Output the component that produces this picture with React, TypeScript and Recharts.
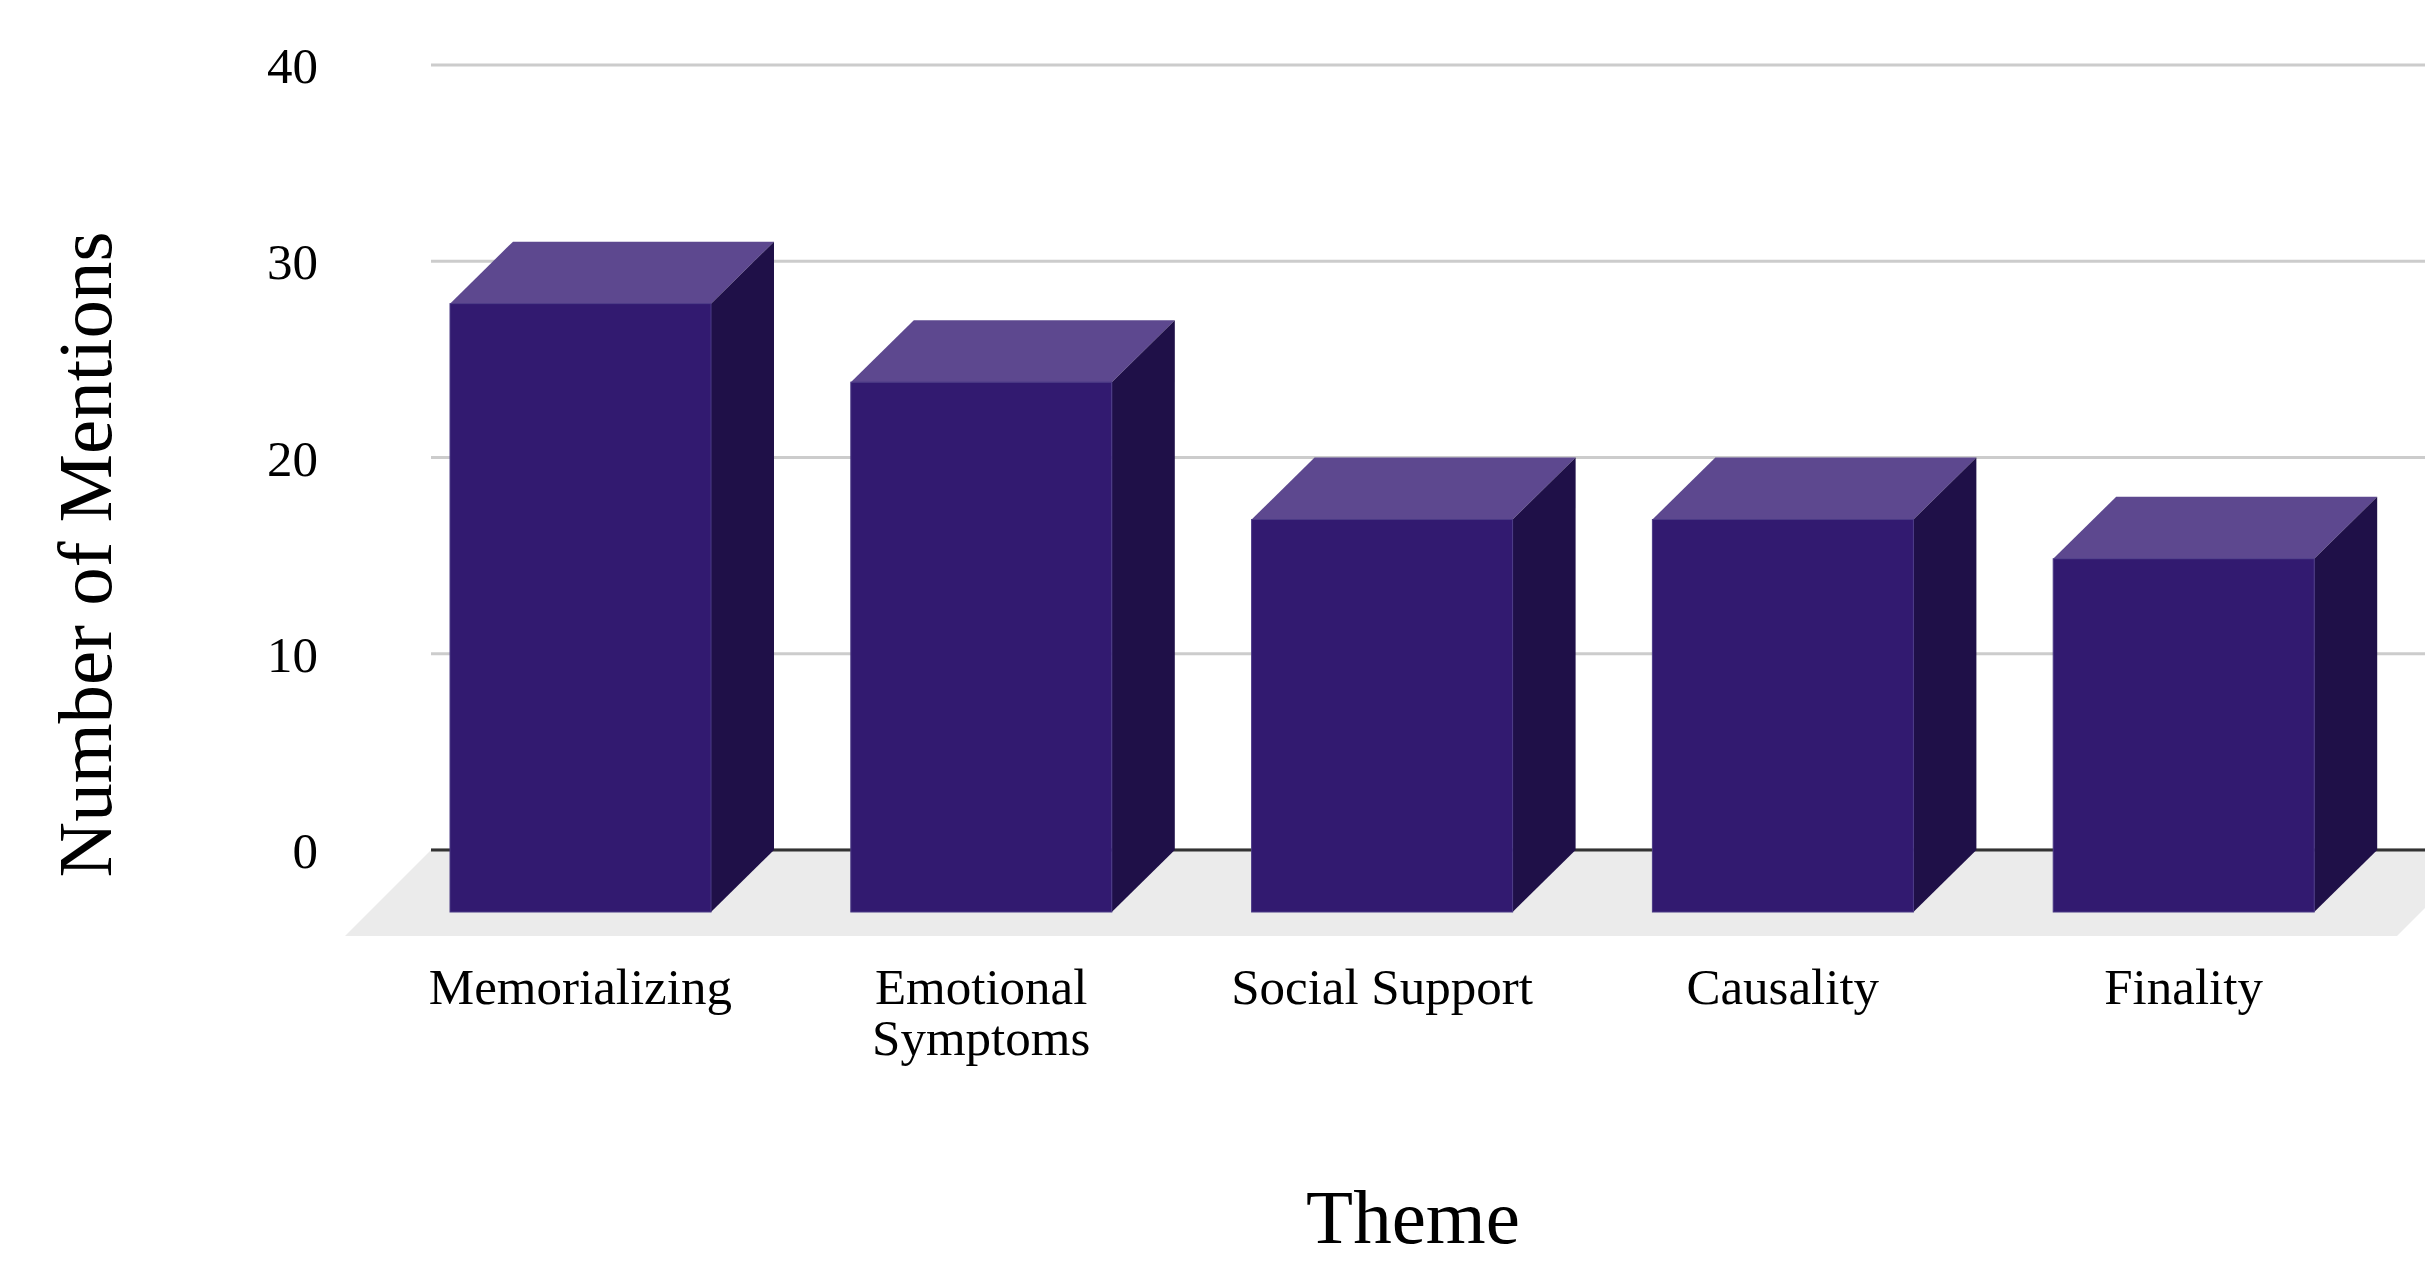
import React from "react";
import { BarChart, Bar, XAxis, YAxis, CartesianGrid, ReferenceArea, Label } from "recharts";

/* -------------------------------------------------------------------------- */
/*  Data                                                                      */
/* -------------------------------------------------------------------------- */

const categories = ["Memorializing", "Emotional Symptoms", "Social Support", "Causality", "Finality"];
const mentions = [31, 27, 20, 20, 18];
const yTicks = [0, 10, 20, 30, 40];

const data = categories.map((theme, i) => ({ theme, mentions: mentions[i] }));

/* -------------------------------------------------------------------------- */
/*  Look                                                                      */
/* -------------------------------------------------------------------------- */

const FONT = '"Liberation Serif", "Times New Roman", serif';
const TICK_SIZE = 51;
const TITLE_SIZE = 77;

// 3D offset: how far the bar's front face sits left/below its back face
const DEPTH_X = 63;
const DEPTH_Y = 62;
const FLOOR_DEPTH = 86;

// category padding inside the plot; the floor still spans the whole plot
const PAD_LEFT = 12;
const PAD_RIGHT = 36;

const FRONT = "#321a70";
const TOP = "#5d488f";
const SIDE = "#1f1048";

/* -------------------------------------------------------------------------- */
/*  Shapes                                                                    */
/* -------------------------------------------------------------------------- */

function Bar3D(props: any) {
  const { x, y, width: w, height: h } = props;
  if (h == null || w == null) return null;
  const fx = x - DEPTH_X;
  const fy = y + DEPTH_Y;
  return (
    <g>
      <polygon
        points={`${fx},${fy} ${x},${y} ${x + w},${y} ${fx + w},${fy}`}
        fill={TOP}
      />
      <polygon
        points={`${fx + w},${fy} ${x + w},${y} ${x + w},${y + h} ${fx + w},${fy + h}`}
        fill={SIDE}
      />
      <rect x={fx} y={fy} width={w} height={h} fill={FRONT} stroke="#4b3a86" strokeWidth={1} />
    </g>
  );
}

// floor plane under the bars, plus the dark baseline at its back edge
function Floor(props: any) {
  const x = props.x - PAD_LEFT;
  const width = props.width + PAD_LEFT + PAD_RIGHT;
  const base = props.y + props.height;
  return (
    <g>
      <polygon
        points={`${x},${base} ${x + width},${base} ${x + width - FLOOR_DEPTH},${base + FLOOR_DEPTH} ${x - FLOOR_DEPTH},${base + FLOOR_DEPTH}`}
        fill="#ebebeb"
      />
      <line x1={x} y1={base} x2={x + width} y2={base} stroke="#333333" strokeWidth={3} />
    </g>
  );
}

// long labels break at the middle space, like the original
function splitLabel(label: string): string[] {
  if (label.length <= 15) return [label];
  const words = label.split(" ");
  const half = Math.ceil(words.length / 2);
  return [words.slice(0, half).join(" "), words.slice(half).join(" ")];
}

function ThemeTick(props: any) {
  const { x, y, payload } = props;
  const lines = splitLabel(String(payload.value));
  return (
    <text
      x={x - DEPTH_X}
      y={y + 36}
      textAnchor="middle"
      fontSize={TICK_SIZE}
      fontFamily={FONT}
      fill="#000"
    >
      {lines.map((line, i) => (
        <tspan key={i} x={x - DEPTH_X} dy={i === 0 ? 0 : TICK_SIZE}>
          {line}
        </tspan>
      ))}
    </text>
  );
}

function YTitle(props: any) {
  const vb = props.viewBox;
  const cx = vb.x + 111;
  const cy = vb.y + vb.height / 2 + 97;
  return (
    <text
      x={cx}
      y={cy}
      transform={`rotate(-90 ${cx} ${cy})`}
      textAnchor="middle"
      fontSize={TITLE_SIZE}
      fontFamily={FONT}
      fill="#000"
    >
      Number of Mentions
    </text>
  );
}

function XTitle(props: any) {
  const vb = props.viewBox;
  return (
    <text
      x={vb.x + 982}
      y={vb.y + 393}
      textAnchor="middle"
      fontSize={TITLE_SIZE}
      fontFamily={FONT}
      fill="#000"
    >
      Theme
    </text>
  );
}

/* -------------------------------------------------------------------------- */
/*  Chart                                                                     */
/* -------------------------------------------------------------------------- */

export default function App() {
  return (
    <div style={{ margin: -8, width: 2433, height: 1261, overflow: "hidden", background: "#fff" }}>
      <BarChart
        width={2500}
        height={1261}
        data={data}
        margin={{ top: 65, right: 17, bottom: 261, left: 0 }}
      >
        <CartesianGrid vertical={false} stroke="#cccccc" strokeWidth={3} />
        <XAxis
          dataKey="theme"
          axisLine={false}
          tickLine={false}
          tickSize={0}
          tickMargin={118}
          height={150}
          interval={0}
          padding={{ left: PAD_LEFT, right: PAD_RIGHT }}
          tick={ThemeTick}
        >
          <Label content={XTitle} />
        </XAxis>
        <YAxis
          type="number"
          domain={[0, 40]}
          ticks={yTicks}
          axisLine={false}
          tickLine={false}
          tickSize={0}
          tickMargin={113}
          width={431}
          tick={{ fontSize: TICK_SIZE, fill: "#000", fontFamily: FONT }}
        >
          <Label content={YTitle} />
        </YAxis>
        <ReferenceArea y1={0} y2={1} shape={Floor} ifOverflow="visible" />
        <Bar dataKey="mentions" barSize={261} shape={Bar3D} isAnimationActive={false} />
      </BarChart>
    </div>
  );
}
